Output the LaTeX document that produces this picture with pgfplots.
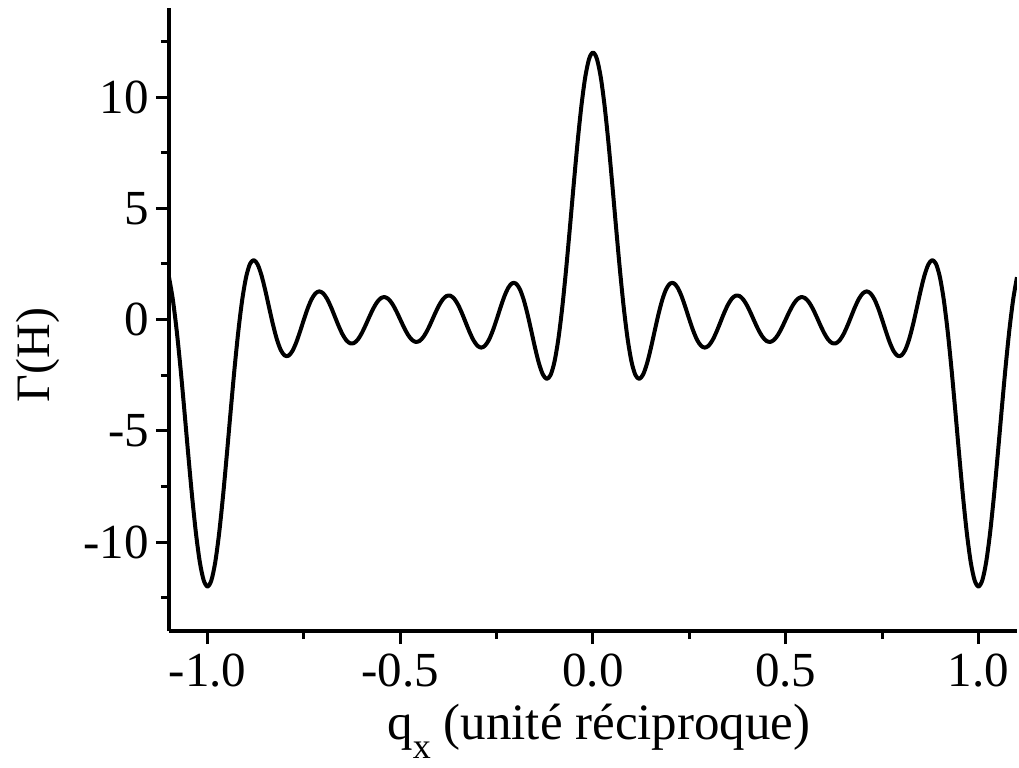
\documentclass[border=0pt]{standalone}
\usepackage{fontspec}
\setmainfont{Liberation Serif}
\usepackage{graphicx}
\usepackage{pgfplots}
\pgfplotsset{compat=1.18}

\pgfplotstableread{
q G
-1.10 1.902
-1.09 0.891
-1.08 -0.504
-1.07 -2.208
-1.06 -4.112
-1.05 -6.080
-1.04 -7.963
-1.03 -9.615
-1.02 -10.906
-1.01 -11.720
-1.00 -12.000
-0.99 -11.720
-0.98 -10.906
-0.97 -9.615
-0.96 -7.963
-0.95 -6.080
-0.94 -4.112
-0.93 -2.208
-0.92 -0.504
-0.91 0.891
-0.90 1.902
-0.89 2.493
-0.88 2.668
-0.87 2.473
-0.86 1.983
-0.85 1.295
-0.84 0.516
-0.83 -0.246
-0.82 -0.899
-0.81 -1.371
-0.80 -1.618
-0.79 -1.628
-0.78 -1.420
-0.77 -1.036
-0.76 -0.538
-0.75 0
-0.74 0.505
-0.73 0.913
-0.72 1.174
-0.71 1.263
-0.70 1.176
-0.69 0.932
-0.68 0.571
-0.67 0.146
-0.66 -0.284
-0.65 -0.660
-0.64 -0.933
-0.63 -1.070
-0.62 -1.056
-0.61 -0.897
-0.60 -0.618
-0.59 -0.259
-0.58 0.129
-0.57 0.494
-0.56 0.784
-0.55 0.963
-0.54 1.006
-0.53 0.909
-0.52 0.686
-0.51 0.368
-0.50 0
-0.49 -0.368
-0.48 -0.686
-0.47 -0.909
-0.46 -1.006
-0.45 -0.963
-0.44 -0.784
-0.43 -0.494
-0.42 -0.129
-0.41 0.259
-0.40 0.618
-0.39 0.897
-0.38 1.056
-0.37 1.070
-0.36 0.933
-0.35 0.660
-0.34 0.284
-0.33 -0.146
-0.32 -0.571
-0.31 -0.932
-0.30 -1.176
-0.29 -1.263
-0.28 -1.174
-0.27 -0.913
-0.26 -0.505
-0.25 0
-0.24 0.538
-0.23 1.036
-0.22 1.420
-0.21 1.628
-0.20 1.618
-0.19 1.371
-0.18 0.899
-0.17 0.246
-0.16 -0.516
-0.15 -1.295
-0.14 -1.983
-0.13 -2.473
-0.12 -2.668
-0.11 -2.493
-0.10 -1.902
-0.09 -0.891
-0.08 0.504
-0.07 2.208
-0.06 4.112
-0.05 6.080
-0.04 7.963
-0.03 9.615
-0.02 10.906
-0.01 11.720
0.00 12.000
0.01 11.720
0.02 10.906
0.03 9.615
0.04 7.963
0.05 6.080
0.06 4.112
0.07 2.208
0.08 0.504
0.09 -0.891
0.10 -1.902
0.11 -2.493
0.12 -2.668
0.13 -2.473
0.14 -1.983
0.15 -1.295
0.16 -0.516
0.17 0.246
0.18 0.899
0.19 1.371
0.20 1.618
0.21 1.628
0.22 1.420
0.23 1.036
0.24 0.538
0.25 0
0.26 -0.505
0.27 -0.913
0.28 -1.174
0.29 -1.263
0.30 -1.176
0.31 -0.932
0.32 -0.571
0.33 -0.146
0.34 0.284
0.35 0.660
0.36 0.933
0.37 1.070
0.38 1.056
0.39 0.897
0.40 0.618
0.41 0.259
0.42 -0.129
0.43 -0.494
0.44 -0.784
0.45 -0.963
0.46 -1.006
0.47 -0.909
0.48 -0.686
0.49 -0.368
0.50 0
0.51 0.368
0.52 0.686
0.53 0.909
0.54 1.006
0.55 0.963
0.56 0.784
0.57 0.494
0.58 0.129
0.59 -0.259
0.60 -0.618
0.61 -0.897
0.62 -1.056
0.63 -1.070
0.64 -0.933
0.65 -0.660
0.66 -0.284
0.67 0.146
0.68 0.571
0.69 0.932
0.70 1.176
0.71 1.263
0.72 1.174
0.73 0.913
0.74 0.505
0.75 0
0.76 -0.538
0.77 -1.036
0.78 -1.420
0.79 -1.628
0.80 -1.618
0.81 -1.371
0.82 -0.899
0.83 -0.246
0.84 0.516
0.85 1.295
0.86 1.983
0.87 2.473
0.88 2.668
0.89 2.493
0.90 1.902
0.91 0.891
0.92 -0.504
0.93 -2.208
0.94 -4.112
0.95 -6.080
0.96 -7.963
0.97 -9.615
0.98 -10.906
0.99 -11.720
1.00 -12.000
1.01 -11.720
1.02 -10.906
1.03 -9.615
1.04 -7.963
1.05 -6.080
1.06 -4.112
1.07 -2.208
1.08 -0.504
1.09 0.891
1.10 1.902
}\gammadata

\begin{document}
\begin{tikzpicture}
% page frame: 1px of the reference = 0.5pt
\path (-84.5pt,-68pt) rectangle (425pt,315.5pt);
\begin{axis}[
  at={(0,0)}, anchor=south west,
  scale only axis,
  width=424pt, height=311.5pt,
  xmin=-1.1, xmax=1.1,
  ymin=-14, ymax=14,
  axis x line*=bottom,
  axis y line*=left,
  axis line style={line width=1.6pt},
  xtick={-1,-0.5,0,0.5,1},
  xticklabels={-1.0,-0.5,0.0,0.5,1.0},
  minor xtick={-0.75,-0.25,0.25,0.75},
  ytick={-10,-5,0,5,10},
  yticklabels={-10,-5,0,5,10},
  minor ytick={-12.5,-7.5,-2.5,2.5,7.5,12.5},
  tick align=outside,
  major tick length=6.5pt,
  minor tick length=4pt,
  tick style={line width=1.5pt, black},
  ticklabel style={font=\fontsize{24.5}{28}\selectfont},
  xticklabel shift=4pt,
  xticklabel style={inner ysep=1pt},
  label style={font=\fontsize{24}{28}\selectfont},
  xlabel={\fontsize{25.5}{30}\selectfont q\raisebox{-9.5pt}{\fontsize{18}{18}\selectfont x} (unité réciproque)},
  ylabel={Γ(H)},
  xlabel style={at={(axis description cs:0.507,-0.174)}, anchor=base, inner ysep=1pt},
  ylabel style={at={(axis description cs:-0.155,0.443)}, anchor=center},
  clip=true,
]
\addplot[black, line width=2pt, line join=round, smooth] table[x=q, y=G] {\gammadata};
\end{axis}
\end{tikzpicture}
\end{document}
